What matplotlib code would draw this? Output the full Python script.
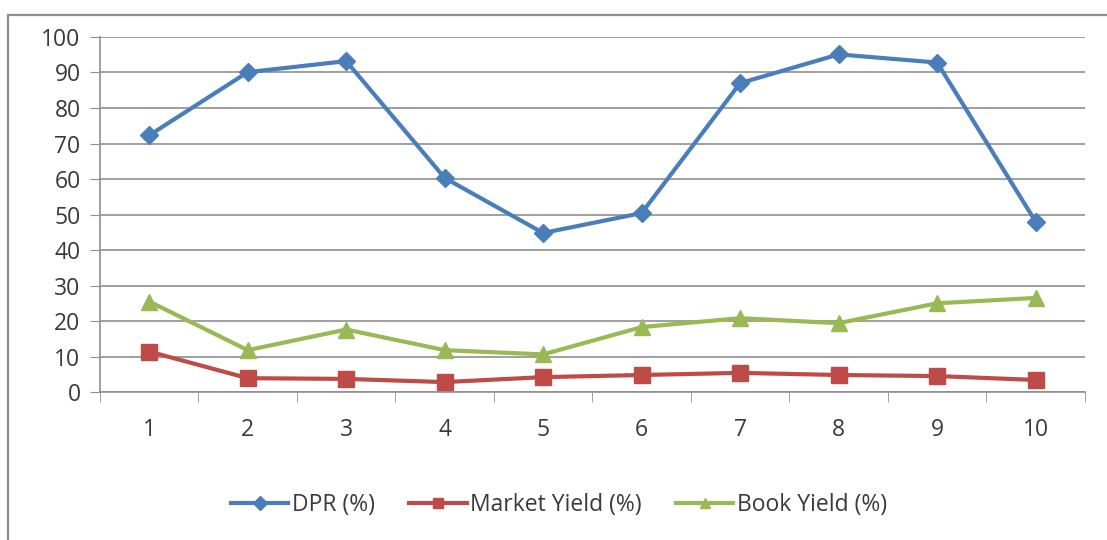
import matplotlib.pyplot as plt
from matplotlib.patches import Rectangle

# period index and the three series (%)
periods = [1, 2, 3, 4, 5, 6, 7, 8, 9, 10]
dpr = [72.3, 90.1, 93.2, 60.3, 44.8, 50.4, 87.0, 95.1, 92.8, 48.0]
market_yield = [11.4, 3.9, 3.7, 2.8, 4.2, 4.8, 5.4, 4.8, 4.5, 3.4]
book_yield = [25.5, 11.8, 17.6, 11.8, 10.6, 18.3, 20.8, 19.4, 25.0, 26.5]

plt.rcParams['font.family'] = ['Open Sans', 'DejaVu Sans']

fig = plt.figure(figsize=(11.07, 5.4), dpi=100)
ax = fig.add_axes([0.0903, 0.274, 0.8897, 0.6575])

# chart frame (runs off the right and bottom edges)
fig.patches.append(Rectangle((0.007, -0.02), 1.05, 0.992, transform=fig.transFigure,
                             fill=False, edgecolor='#8c8c8c', linewidth=1.6))

x = list(range(len(periods)))
ax.plot(x, dpr, color='#4A7EBB', linewidth=3, marker='D', markersize=9,
        label='DPR (%)')
ax.plot(x, market_yield, color='#BE4B48', linewidth=3, marker='s', markersize=11,
        label='Market Yield (%)')
ax.plot(x, book_yield, color='#98B954', linewidth=3, marker='^', markersize=11,
        label='Book Yield (%)')

ax.set_xlim(-0.5, len(periods) - 0.5)
ax.set_ylim(0, 100)
ax.set_yticks(range(0, 101, 10))
ax.yaxis.grid(True, color='#8f8f8f', linewidth=1.2)
ax.set_axisbelow(True)

ax.set_xticks(x)
ax.set_xticklabels([str(p) for p in periods])
ax.set_xticks([i - 0.5 for i in range(len(periods) + 1)], minor=True)
ax.tick_params(axis='x', which='major', length=0, pad=19, labelsize=16.5, labelcolor='#3a3a3a')
ax.tick_params(axis='x', which='minor', length=7, color='#8f8f8f', direction='out')
ax.tick_params(axis='y', length=7, color='#8f8f8f', pad=7, labelsize=16.5, labelcolor='#3a3a3a')

for side in ['top', 'right']:
    ax.spines[side].set_visible(False)
ax.spines['left'].set_color('#8f8f8f')
ax.spines['bottom'].set_color('#8f8f8f')
ax.spines['left'].set_linewidth(1.2)
ax.spines['bottom'].set_linewidth(1.2)

leg = fig.legend(loc='center', bbox_to_anchor=(0.505, 0.065), ncol=3, frameon=False,
                 fontsize=16.5, handlelength=2.5, columnspacing=1.5, handletextpad=0.15,
                 labelcolor='#3a3a3a')
for h in leg.legend_handles:
    h.set_markersize(7)

fig.savefig('out.png', dpi=100)
